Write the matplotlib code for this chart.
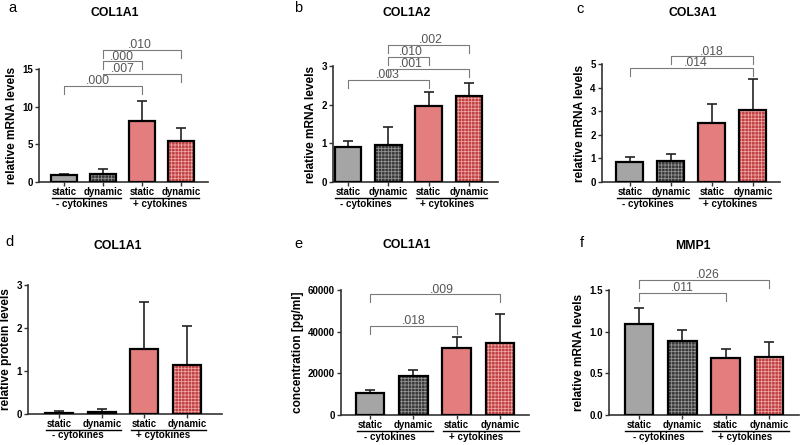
import matplotlib
matplotlib.use("Agg")
import matplotlib.pyplot as plt
import matplotlib.transforms as mtransforms

plt.rcParams["font.family"] = ["Liberation Sans", "DejaVu Sans"]
plt.rcParams["hatch.linewidth"] = 0.55

# bar order: static -cyt, dynamic -cyt, static +cyt, dynamic +cyt
conditions = ["static", "dynamic", "static", "dynamic"]
groups = ["- cytokines", "+ cytokines"]

panel_letters = ["a", "b", "c", "d", "e", "f"]
titles = ["COL1A1", "COL1A2", "COL3A1", "COL1A1", "COL1A1", "MMP1"]
ylabels = ["relative mRNA levels", "relative mRNA levels", "relative mRNA levels",
           "relative protein levels", "concentration [pg/ml]", "relative mRNA levels"]

means_a = [0.93, 1.1, 8.08, 5.5]
err_a = [0.17, 0.6, 2.72, 1.65]
means_b = [0.905, 0.966, 1.97, 2.22]
err_b = [0.155, 0.454, 0.37, 0.33]
means_c = [0.85, 0.88, 2.5, 3.06]
err_c = [0.21, 0.32, 0.82, 1.30]
means_d = [0.023, 0.05, 1.51, 1.14]
err_d = [0.057, 0.07, 1.10, 0.91]
means_e = [10600, 18500, 32150, 34560]
err_e = [1460, 3200, 5310, 14140]
means_f = [1.09, 0.893, 0.684, 0.696]
err_f = [0.20, 0.132, 0.112, 0.181]

yticks_a = [0, 5, 10, 15]
yticks_b = [0, 1, 2, 3]
yticks_c = [0, 1, 2, 3, 4, 5]
yticks_d = [0, 1, 2, 3]
yticks_e = [0, 20000, 40000, 60000]
yticks_f = [0.0, 0.5, 1.0, 1.5]

# brackets: (from bar, to bar, line height, p label, label x)
brackets_a = [(0, 2, 12.8, ".000", 0.85), (1, 3, 14.3, ".007", 1.5),
              (1, 2, 16.0, ".000", 1.48), (1, 3, 17.5, ".010", 1.95)]
brackets_b = [(0, 2, 2.63, ".003", 1.0), (1, 3, 2.93, ".001", 1.55),
              (1, 2, 3.23, ".010", 1.55), (1, 3, 3.55, ".002", 2.05)]
brackets_c = [(0, 3, 4.83, ".014", 1.6), (1, 3, 5.32, ".018", 2.0)]
brackets_d = []
brackets_e = [(0, 2, 42770, ".018", 1.0), (0, 3, 57880, ".009", 1.67)]
brackets_f = [(0, 2, 1.47, ".011", 1.0), (0, 3, 1.62, ".026", 1.58)]

panels = [
    (means_a, err_a, yticks_a, brackets_a, "{:.0f}"),
    (means_b, err_b, yticks_b, brackets_b, "{:.0f}"),
    (means_c, err_c, yticks_c, brackets_c, "{:.0f}"),
    (means_d, err_d, yticks_d, brackets_d, "{:.0f}"),
    (means_e, err_e, yticks_e, brackets_e, "{:.0f}"),
    (means_f, err_f, yticks_f, brackets_f, "{:.1f}"),
]

# axes boxes in pixels: left, right, top, bottom ; plus x limits
boxes = [(39, 208, 69, 182, -0.65, 3.69), (333, 498, 66, 182, -0.37, 3.72),
         (602, 780, 64, 182, -0.68, 3.66), (28, 222, 285, 414, -0.73, 3.82),
         (341, 529, 290, 415, -0.67, 3.67), (609, 799, 290, 415, -0.69, 3.69)]
letter_pos = [(12, 8), (298, 8), (580, 9), (10, 242), (298, 244), (582, 243)]
title_pos = [(115, 13), (407, 13), (693, 13), (118, 246), (407, 245), (693, 246)]

faces = ["#a5a5a5", "#383838", "#e47e7e", "#bf4040"]
hatch_cols = [None, "#969696", None, "#eea6a6"]

W, H = 800, 445
fig = plt.figure(figsize=(8, 4.45), dpi=100)

for k, (means, errs, yticks, brackets, fmt) in enumerate(panels):
    l, r, t, b, x0, x1 = boxes[k]
    ax = fig.add_axes([l / W, 1 - b / H, (r - l) / W, (b - t) / H])
    x = list(range(len(means)))
    for i in x:
        if hatch_cols[i]:
            ax.bar(i, means[i], 0.66, color=faces[i], hatch="+++++",
                   edgecolor=hatch_cols[i], linewidth=0, zorder=2)
            ax.bar(i, means[i], 0.66, fill=False, edgecolor="black",
                   linewidth=1.6, zorder=3)
        else:
            ax.bar(i, means[i], 0.66, color=faces[i], edgecolor="black",
                   linewidth=1.6, zorder=3)
    ax.errorbar(x, means, yerr=[[0] * len(errs), errs], fmt="none",
                ecolor="#222222", elinewidth=1.2, capsize=3.6, capthick=1.2, zorder=1)
    ax.set_xlim(x0, x1)
    ax.set_ylim(0, yticks[-1])
    ax.set_yticks(yticks)
    ax.set_yticklabels([fmt.format(v) for v in yticks], fontsize=7, fontweight="bold")
    ax.set_xticks(x)
    ax.set_xticklabels([])
    ax.tick_params(axis="both", length=3, width=1, color="#333333", pad=1.5)
    for s in ("top", "right"):
        ax.spines[s].set_visible(False)
    for s in ("left", "bottom"):
        ax.spines[s].set_linewidth(1.2)
        ax.spines[s].set_color("#333333")
    ax.set_ylabel(ylabels[k], fontsize=8.6, fontweight="bold", labelpad=3)

    # brackets
    drop = 8 / (b - t) * yticks[-1]
    for i, j, yl, lab, tx in brackets:
        ax.plot([i, i, j, j], [yl - drop, yl, yl, yl - drop], color="#7a7a7a",
                lw=0.8, clip_on=False, zorder=4)
        ax.text(tx, yl - 0.01 * yticks[-1], lab, ha="center", va="bottom",
                fontsize=8.8, color="#555555", clip_on=False)

    # category labels below the axis
    def off(dy):
        return ax.get_xaxis_transform() + mtransforms.ScaledTranslation(
            0, -dy / 100, fig.dpi_scale_trans)
    for i, c in zip(x, conditions):
        ax.text(i, 0, c, transform=off(10), ha="center", va="center",
                fontsize=6.9, fontweight="bold")
    for g, name in enumerate(groups):
        ax.plot([2 * g - 0.31, 2 * g + 1.45], [0, 0], transform=off(15.5),
                color="black", lw=1.0, clip_on=False)
        ax.text(2 * g + 0.45, 0, name, transform=off(21.5), ha="center",
                va="center", fontsize=7.1, fontweight="bold")

    fig.text(letter_pos[k][0] / W, 1 - letter_pos[k][1] / H, panel_letters[k],
             ha="center", va="center", fontsize=10.5)
    fig.text(title_pos[k][0] / W, 1 - title_pos[k][1] / H, titles[k],
             ha="center", va="center", fontsize=8.8, fontweight="bold")

fig.savefig("out.png", dpi=100)
